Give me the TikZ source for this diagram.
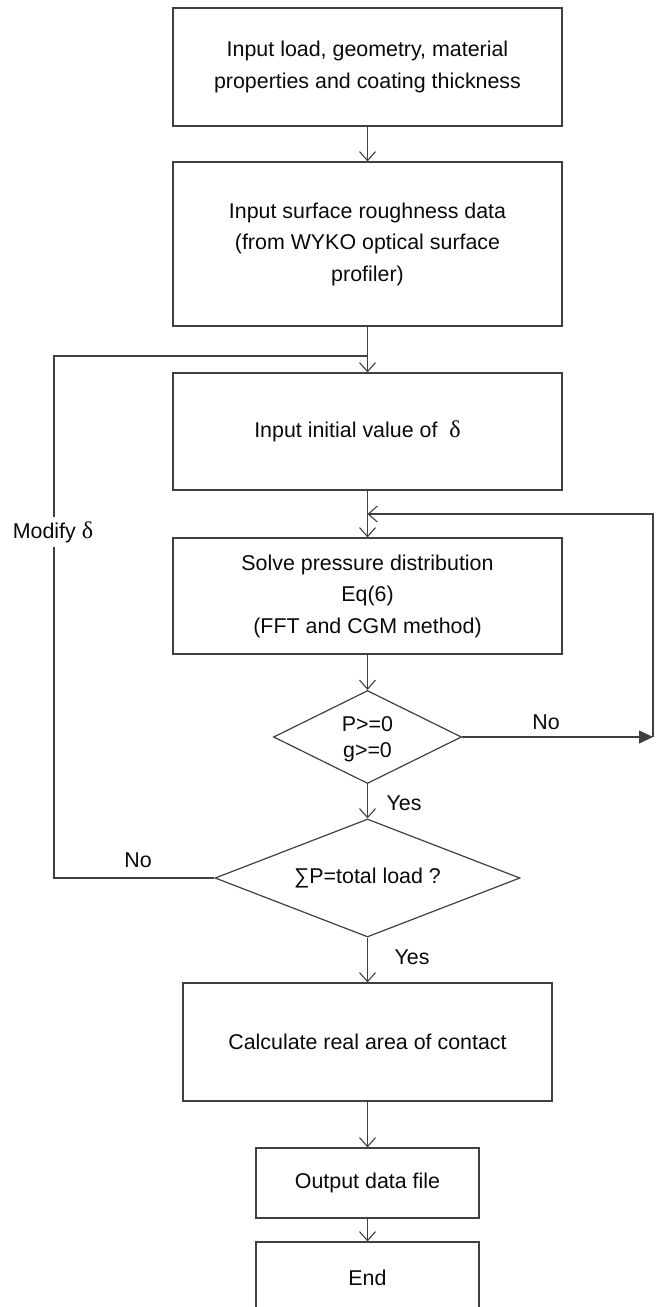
\documentclass[tikz,border=0pt]{standalone}
\usepackage{fontspec}
\setmainfont{Liberation Sans}
\newfontfamily\serifd{Liberation Serif}
\usetikzlibrary{arrows.meta,shapes.geometric}
\definecolor{ln}{HTML}{404040}
\definecolor{tx}{HTML}{0A0A0A}
\tikzset{
  every node/.style={text=tx, font=\fontsize{21.4}{31.5}\selectfont},
  boxnode/.style={draw=ln, line width=1.2pt, rectangle, inner sep=0pt, align=center},
  dianode/.style={draw=ln, line width=1.2pt, diamond, inner sep=0pt},
  conn/.style={draw=ln, line width=1.2pt},
  arr/.style={conn, -{Straight Barb[length=9pt,width=16pt,line width=1.1pt]}},
  tri/.style={conn, -{Triangle[length=14pt,width=13pt]}},
  lbl/.style={inner sep=1pt}
}
\begin{document}
\begin{tikzpicture}[x=1pt,y=-1pt]
\clip (0,0) rectangle (662,1307);
\fill[white] (0,0) rectangle (662,1307);

\node[boxnode, minimum width=389pt, minimum height=118pt] (b1) at (367.5,67)
  {Input load, geometry, material\\properties and coating thickness};
\node[boxnode, minimum width=389pt, minimum height=164pt] (b2) at (367.5,244)
  {Input surface roughness data\\(from WYKO optical surface\\profiler)};
\node[boxnode, minimum width=389pt, minimum height=117pt] (b3) at (367.5,431.5)
  {Input initial value of\ \ {\serifd\fontsize{24}{31.5}\selectfont δ}\hspace*{20pt}};
\node[boxnode, minimum width=389pt, minimum height=116pt] (b4) at (367.5,596)
  {Solve pressure distribution\\Eq(6)\\(FFT and CGM method)};
\node[dianode, minimum width=188pt, minimum height=93pt] (d1) at (367.5,737) {};
\node[align=center, font=\fontsize{21.4}{26}\selectfont] (d1t) at (367.5,739) {P>=0\\g>=0};
\node[dianode, minimum width=305pt, minimum height=118pt] (d2) at (367.5,878) {};
\node (d2t) at (367.5,878) {∑P=total load ?};
\node[boxnode, minimum width=369pt, minimum height=118pt] (b5) at (367.5,1042)
  {Calculate real area of contact};
\node[boxnode, minimum width=223pt, minimum height=70pt] (b6) at (367.5,1183)
  {Output data file};
\node[boxnode, minimum width=223pt, minimum height=72pt] (b7) at (367.5,1278)
  {End};

% junction / loop coordinates
\coordinate (jn) at (367.5,356);
\coordinate (lt) at (54,356);
\coordinate (lb) at (54,878);
\coordinate (mj) at (367.5,514);
\coordinate (rt) at (653,514);
\coordinate (rb) at (653,737);

% main flow
\draw[arr] (b1) -- (b2);
\draw[arr] (b2) -- (b3);
\draw[arr] (b3) -- (b4);
\draw[arr] (b4) -- (d1);
\draw[arr] (d1) -- (d2);
\draw[arr] (d2) -- (b5);
\draw[arr] (b5) -- (b6);
\draw[arr] (b6) -- (b7);

% No loop from d1 (right side)
\draw[tri] (d1.east) -- (rb);
\draw[arr] (rb) -- (rt) -- (mj);

% No loop from d2 (left side)
\draw[conn] (d2.west) -- (lb) -- (lt) -- (jn);
\node[fill=white, inner xsep=1pt, inner ysep=4pt] (mod) at (53,532) {Modify\ {\serifd\fontsize{24}{31.5}\selectfont δ}};

% labels
\node[lbl] (no1) at (546,722) {No};
\node[lbl] (yes1) at (404,803) {Yes};
\node[lbl] (no2) at (138,860) {No};
\node[lbl] (yes2) at (412,957) {Yes};
\end{tikzpicture}
\end{document}
